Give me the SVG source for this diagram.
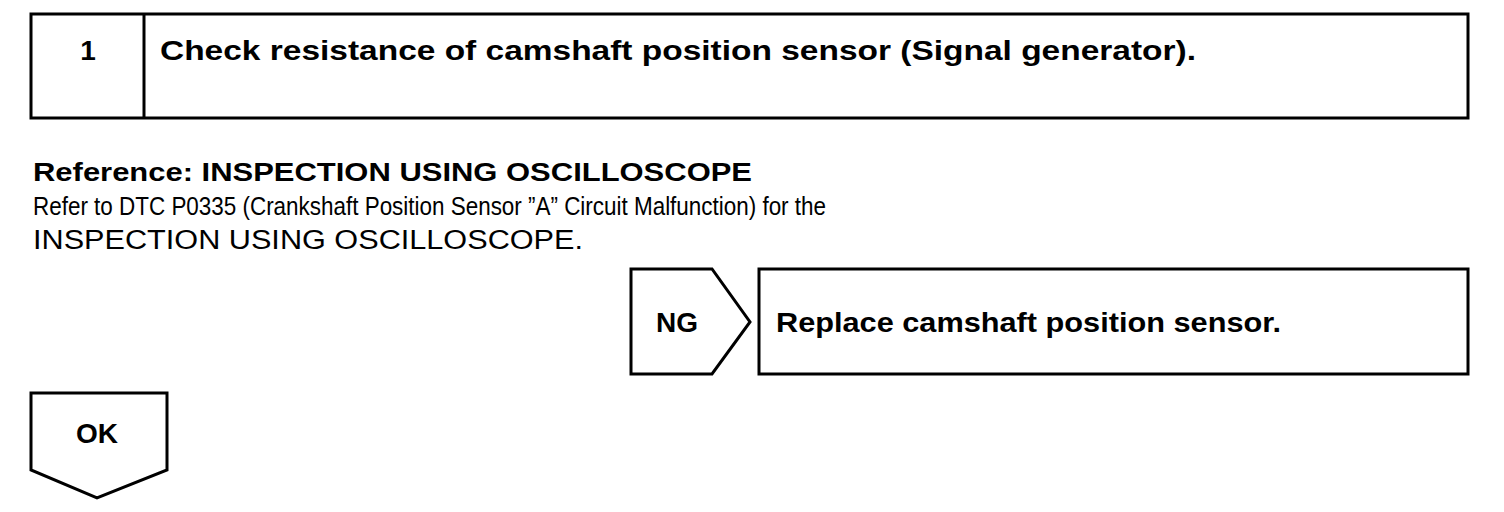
<svg xmlns="http://www.w3.org/2000/svg" width="1504" height="512" viewBox="0 0 1504 512">
<style>
.ln{fill:none;stroke:#000;stroke-width:3;stroke-linejoin:miter}
.b{font-family:"Liberation Sans",Arial,sans-serif;font-weight:bold;fill:#000}
.r{font-family:"Liberation Sans",Arial,sans-serif;fill:#000}
</style>
<rect width="1504" height="512" fill="#fff"/>
<g id="step1">
<rect class="ln" x="31" y="14" width="1437" height="104"/>
<line class="ln" x1="144" y1="14" x2="144" y2="118"/>
<text class="b" x="88" y="60" font-size="28" text-anchor="middle">1</text>
<text class="b" x="160" y="60" font-size="28" textLength="1036" lengthAdjust="spacingAndGlyphs">Check resistance of camshaft position sensor (Signal generator).</text>
</g>
<g id="note">
<text class="b" x="33" y="181" font-size="26" textLength="719" lengthAdjust="spacingAndGlyphs">Reference:  INSPECTION USING OSCILLOSCOPE</text>
<text class="r" x="33" y="215" font-size="26" textLength="793" lengthAdjust="spacingAndGlyphs">Refer to DTC P0335 (Crankshaft Position Sensor ”A” Circuit Malfunction) for the</text>
<text class="r" x="33" y="249" font-size="27" textLength="550" lengthAdjust="spacingAndGlyphs">INSPECTION USING OSCILLOSCOPE.</text>
</g>
<g id="ng">
<polygon class="ln" points="631,269 712,269 750,322 712,374 631,374"/>
<text class="b" x="677" y="332" font-size="28" text-anchor="middle">NG</text>
</g>
<g id="replace">
<rect class="ln" x="759" y="269" width="709" height="105"/>
<text class="b" x="776" y="332" font-size="28" textLength="505" lengthAdjust="spacingAndGlyphs">Replace camshaft position sensor.</text>
</g>
<g id="ok">
<polygon class="ln" points="31,393 167,393 167,470 97,498 31,470"/>
<text class="b" x="97" y="443" font-size="28" text-anchor="middle">OK</text>
</g>
<g id="connectors"></g>
</svg>
